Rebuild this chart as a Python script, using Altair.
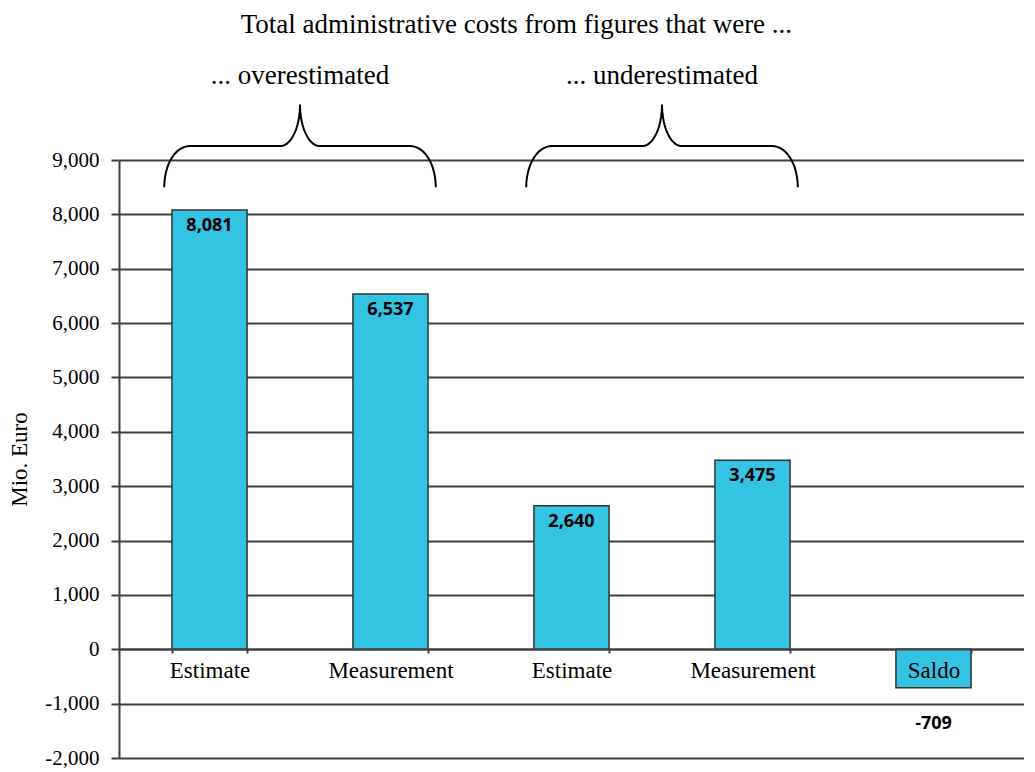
import altair as alt
import pandas as pd
import numpy as np

# ---- data ----
categories = ["Estimate", "Measurement", "Estimate", "Measurement", "Saldo"]
groups = ["over", "over", "under", "under", "saldo"]
values = [8081, 6537, 2640, 3475, -709]
y_ticks = list(range(-2000, 10000, 1000))
title_text = "Total administrative costs from figures that were ..."
group_names = ["over", "under"]
group_labels = ["... overestimated", "... underestimated"]
y_title = "Mio. Euro"

# ---- styling / annotation placement constants ----
SERIF = "Liberation Serif"
SANS = "Open Sans"
BAR_FILL = "#35C3E3"
DARK = "#404040"
W, H = 905, 598
Y_DOMAIN = [-2000, 9000]
N = len(categories)

keys = [f"{i}|{c}" for i, c in enumerate(categories)]
df = pd.DataFrame({
    "key": keys,
    "value": values,
    "group": groups,
    "label": [f"{v:,}" for v in values],
})

# group annotation positions (band units), derived from the bars in each group
grp_rows = []
for g, lab in zip(group_names, group_labels):
    idx = [i for i, gg in enumerate(groups) if gg == g]
    grp_rows.append({"g": g, "text": lab, "cx": float(np.mean([i + 0.5 for i in idx]))})
gdf = pd.DataFrame(grp_rows)
gdf["value"] = 10550


def brace(cx, hw=0.75, rx1=0.14, rx2=0.11, y_end=8500, y_mid=9256, y_cusp=10020, n=20):
    t = np.linspace(0, np.pi / 2, n)
    left = []
    x0 = cx - hw + rx1
    left += list(zip(x0 - rx1 * np.cos(t), y_end + (y_mid - y_end) * np.sin(t)))
    x1 = cx - rx2
    left += list(zip(x1 + rx2 * np.sin(t), y_cusp - (y_cusp - y_mid) * np.cos(t)))
    right = [(2 * cx - x, y) for x, y in reversed(left)]
    return left + right


brace_rows = []
for _, r in gdf.iterrows():
    for k, (x, y) in enumerate(brace(r["cx"])):
        brace_rows.append({"g": r["g"], "bx": x, "value": y, "o": k})
bdf = pd.DataFrame(brace_rows)

yscale = alt.Scale(domain=Y_DOMAIN, nice=False, zero=False)
xband = alt.Scale(paddingInner=0.585, paddingOuter=0.2925)
xq = alt.Scale(domain=[0, N], nice=False, zero=False)

base = alt.Chart(df)

bars = base.mark_bar(fill=BAR_FILL, stroke="#333333", strokeWidth=1.5).encode(
    x=alt.X("key:N", sort=keys, scale=xband, title=None,
            axis=alt.Axis(orient="bottom", offset=-109, domain=True, domainColor=DARK,
                          domainWidth=2, ticks=True, tickBand="extent", tickSize=4,
                          tickColor=DARK, tickWidth=2, labelPadding=6, labelAngle=0,
                          labelFont=SERIF, labelFontSize=23, labelColor="black",
                          labelExpr="split(datum.label, '|')[1]", grid=False, zindex=1)),
    y=alt.Y("value:Q", scale=yscale, title=y_title,
            axis=alt.Axis(values=y_ticks,
                          labelExpr="replace(format(datum.value, ','), '\u2212', '-')",
                          grid=True, gridColor=DARK, gridWidth=2,
                          domain=True, domainColor=DARK, domainWidth=2,
                          ticks=True, tickSize=8, tickColor=DARK, tickWidth=2,
                          labelFont=SERIF, labelFontSize=21, labelColor="black",
                          labelPadding=12, titleFont=SERIF, titleFontSize=23,
                          titleFontWeight="normal", titleColor="black", titlePadding=13)),
)

pos_text = base.transform_filter("datum.value >= 0").mark_text(
    font=SANS, fontSize=18, fontWeight="bold", color="black", baseline="top", dy=7
).encode(x=alt.X("key:N", sort=keys, scale=xband), y=alt.Y("value:Q", scale=yscale), text="label:N")

neg_text = base.transform_filter("datum.value < 0").mark_text(
    font=SANS, fontSize=18, fontWeight="bold", color="black", baseline="middle", dy=36
).encode(x=alt.X("key:N", sort=keys, scale=xband), y=alt.Y("value:Q", scale=yscale), text="label:N")

braces = alt.Chart(bdf).mark_line(color="black", strokeWidth=2).encode(
    x=alt.X("bx:Q", scale=xq, axis=None),
    y=alt.Y("value:Q", scale=yscale),
    detail="g:N",
    order="o:Q",
)

glabels = alt.Chart(gdf).mark_text(font=SERIF, fontSize=27, color="black", baseline="middle").encode(
    x=alt.X("cx:Q", scale=xq, axis=None),
    y=alt.Y("value:Q", scale=yscale),
    text="text:N",
)

main = alt.layer(bars, pos_text, neg_text)
annot = alt.layer(braces, glabels)

chart = alt.layer(main, annot).resolve_scale(
    x="independent"
).properties(
    title=alt.TitleParams(title_text, font=SERIF, fontSize=27, fontWeight="normal",
                          color="black", anchor="middle", frame="bounds", offset=23),
    padding={"left": 0, "top": 2, "right": 0, "bottom": 0},
).configure_view(stroke=None)

chart = chart.properties(width=W, height=H)
chart.save("out.html", embed_options={"renderer": "svg", "actions": False})
